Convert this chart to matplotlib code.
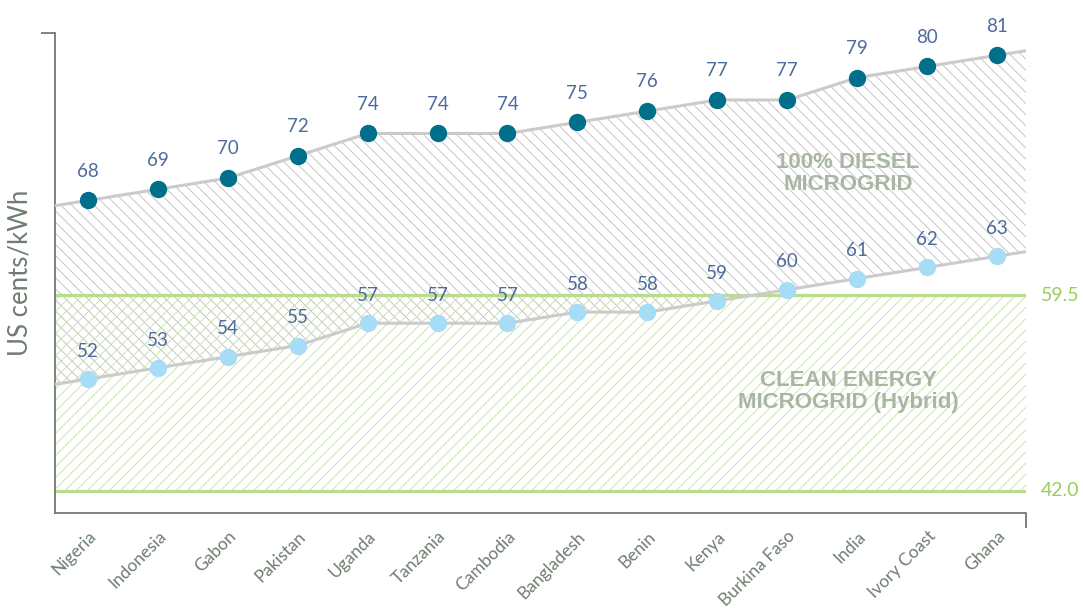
import numpy as np
import matplotlib
matplotlib.use('Agg')
import matplotlib.pyplot as plt

plt.rcParams['font.family'] = ['Lato', 'DejaVu Sans']
plt.rcParams['hatch.linewidth'] = 0.6

# 数据
countries = ['Nigeria', 'Indonesia', 'Gabon', 'Pakistan', 'Uganda', 'Tanzania', 'Cambodia',
             'Bangladesh', 'Benin', 'Kenya', 'Burkina Faso', 'India', 'Ivory Coast', 'Ghana']
diesel = [68, 69, 70, 72, 74, 74, 74, 75, 76, 77, 77, 79, 80, 81]
hybrid = [52, 53, 54, 55, 57, 57, 57, 58, 58, 59, 60, 61, 62, 63]
band_high = 59.5
band_low = 42.0

# 颜色
DIESEL_C = '#006f8a'
HYBRID_C = '#a6dcf5'
LINE_C = '#cbcbcb'
LABEL_C = '#4d6b9c'
GREEN_LINE = '#b9dc8e'
GREEN_TXT = '#9ccc5f'
GREEN_HATCH = '#c6e0a2'
GRAY_HATCH = '#bdbdbd'
AXIS_C = '#6f7d70'
REGION_C = '#a8b6a3'


def extend(vals, left, right):
    """把折线线性延长到坐标轴两端"""
    v = np.asarray(vals, dtype=float)
    n = len(v)
    x = np.concatenate([[left], np.arange(n), [right]])
    y = np.concatenate([[v[0] - (v[1] - v[0]) * (0 - left)], v,
                        [v[-1] + (v[-1] - v[-2]) * (right - (n - 1))]])
    return x, y


def main():
    fig = plt.figure(figsize=(10.83, 6.10), dpi=100)
    ax = fig.add_axes([0.0508, 0.159, 0.8966, 0.7869])

    n = len(countries)
    xl, xr = -0.47, n - 1 + 0.415
    ymin, ymax = 40.0, 83.0
    ax.set_xlim(xl, xr)
    ax.set_ylim(ymin, ymax)

    xd, yd = extend(diesel, xl, xr)
    xh, yh = extend(hybrid, xl, xr)

    # 阴影区域
    ax.fill_between(xd, yh, yd, facecolor='none', edgecolor=GRAY_HATCH,
                    linewidth=0, hatch='\\\\\\', zorder=1)
    ax.fill_between([xl, xr], band_low, band_high, facecolor='none', edgecolor=GREEN_HATCH,
                    linewidth=0, hatch='///', zorder=1)
    ax.axhline(band_high, color=GREEN_LINE, lw=2.3, zorder=2)
    ax.axhline(band_low, color=GREEN_LINE, lw=2.3, zorder=2)

    # 折线和散点
    ax.plot(xd, yd, color=LINE_C, lw=2.2, zorder=3)
    ax.plot(xh, yh, color=LINE_C, lw=2.2, zorder=3)
    ax.plot(range(n), diesel, 'o', color=DIESEL_C, ms=12.5, mec='none', zorder=4)
    ax.plot(range(n), hybrid, 'o', color=HYBRID_C, ms=12.5, mec='none', zorder=4)

    for i in range(n):
        ax.annotate(str(diesel[i]), (i, diesel[i]), xytext=(0, 21), textcoords='offset points',
                    ha='center', va='center', fontsize=13.5, color=LABEL_C)
        ax.annotate(str(hybrid[i]), (i, hybrid[i]), xytext=(0, 20), textcoords='offset points',
                    ha='center', va='center', fontsize=13.5, color=LABEL_C)

    # 右侧数值
    for v in [band_high, band_low]:
        ax.text(1.015, v, f'{v:.1f}', transform=ax.get_yaxis_transform(), ha='left', va='center',
                fontsize=14, color=GREEN_TXT)

    # 区域文字
    region_font = ['Liberation Sans', 'DejaVu Sans']
    ax.text(10.87, 70.4, '100% DIESEL\nMICROGRID', ha='center', va='center', fontsize=16,
            fontweight='bold', color=REGION_C, family=region_font, linespacing=1.1)
    ax.text(10.87, 50.9, 'CLEAN ENERGY\nMICROGRID (Hybrid)', ha='center', va='center', fontsize=16,
            fontweight='bold', color=REGION_C, family=region_font, linespacing=1.1)

    # 坐标轴样式
    for s in ['top', 'right']:
        ax.spines[s].set_visible(False)
    for s in ['left', 'bottom']:
        ax.spines[s].set_color(AXIS_C)
        ax.spines[s].set_linewidth(1.3)

    ax.set_yticks([ymax])
    ax.set_yticklabels([])
    ax.tick_params(axis='y', length=10, width=1.3, color=AXIS_C, direction='out')

    ax.set_xticks(range(n))
    ax.set_xticklabels(countries, rotation=45, ha='right', rotation_mode='anchor',
                       fontsize=12.5, color=AXIS_C)
    ax.tick_params(axis='x', which='major', length=0, pad=11)
    ax.set_xticks([xr], minor=True)
    ax.tick_params(axis='x', which='minor', length=11, width=1.3, color=AXIS_C, direction='out')

    ax.set_ylabel('US cents/kWh', fontsize=18.5, color=AXIS_C, labelpad=3)

    fig.savefig('out.png', dpi=100)


if __name__ == '__main__':
    main()
